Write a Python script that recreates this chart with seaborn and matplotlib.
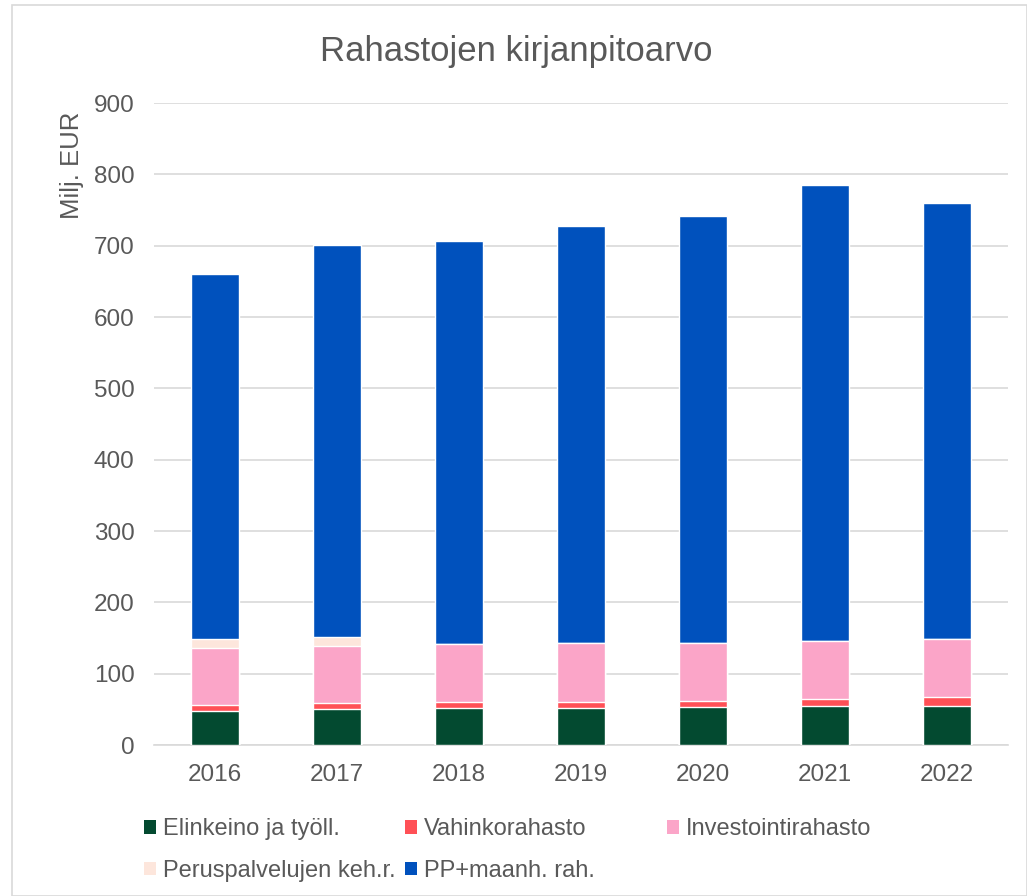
import seaborn as sns
import pandas as pd
import numpy as np
import matplotlib.pyplot as plt
from matplotlib.patches import Patch, Rectangle

years = ['2016', '2017', '2018', '2019', '2020', '2021', '2022']
elinkeino = [48, 51, 52, 52, 54, 55, 55]
vahinko = [8, 8, 8.5, 9, 8, 10, 12]
investointi = [80, 80, 81, 82, 81, 81, 81]
peruspalvelu = [12, 13, 0, 0, 0, 0, 0]
pp_maanh = [512, 549, 565, 585, 599, 639, 612]

series = ['Elinkeino ja työll.', 'Vahinkorahasto', 'Investointirahasto',
          'Peruspalvelujen keh.r.', 'PP+maanh. rah.']
values = [elinkeino, vahinko, investointi, peruspalvelu, pp_maanh]
colors = ['#034A30', '#FF5056', '#FBA5C8', '#FDE6DC', '#0051BD']

sns.set_style('white')
plt.rcParams['font.family'] = ['Liberation Sans', 'DejaVu Sans']
txt = '#595959'

fig = plt.figure(figsize=(10.27, 8.96), dpi=100)
ax = fig.add_axes([0.15, 0.1685, 0.8315, 0.7165])

# stacked bars: draw cumulative totals from top layer down
cum = np.cumsum(np.array(values, dtype=float), axis=0)
for i in range(len(series) - 1, -1, -1):
    df = pd.DataFrame({'year': years, 'value': cum[i]})
    sns.barplot(data=df, x='year', y='value', color=colors[i], width=0.4,
                saturation=1, ax=ax, zorder=3)

ax.set_ylim(0, 900)
ax.set_yticks(range(0, 901, 100))
ax.grid(axis='y', color='#D9D9D9', linewidth=1.2, zorder=0)
for s in ['top', 'right', 'left']:
    ax.spines[s].set_visible(False)
ax.spines['bottom'].set_color('#D9D9D9')
ax.spines['bottom'].set_linewidth(1.2)
ax.tick_params(axis='both', length=0, labelsize=17.5, labelcolor=txt, pad=14)
ax.set_xlabel('')
ax.set_ylabel('')
fig.text(0.0700, 0.816, 'Milj. EUR', rotation=90, ha='center', va='center',
         fontsize=18.5, color=txt)

fig.text(0.5024, 0.9320, 'Rahastojen kirjanpitoarvo', ha='center', va='baseline',
         fontsize=25, color=txt)

# legend laid out in equal-width columns, rows filled left to right
cols = [[0, 3], [1, 4], [2]]
xs = [0.1402, 0.3943, 0.6495]
for idx, x in zip(cols, xs):
    hs = [Patch(facecolor=colors[k], edgecolor='none') for k in idx]
    lg = fig.legend(hs, [series[k] for k in idx], loc='upper left',
                    bbox_to_anchor=(x, 0.0866), frameon=False, fontsize=17,
                    labelcolor=txt, handlelength=0.5, handleheight=0.5,
                    handletextpad=0.3, labelspacing=0.82, borderpad=0,
                    borderaxespad=0)

fig.patches.append(Rectangle((0.012, 0.0), 0.988, 0.994, transform=fig.transFigure,
                             fill=False, edgecolor='#D9D9D9', linewidth=1.2))

fig.savefig('out.png', dpi=100)
